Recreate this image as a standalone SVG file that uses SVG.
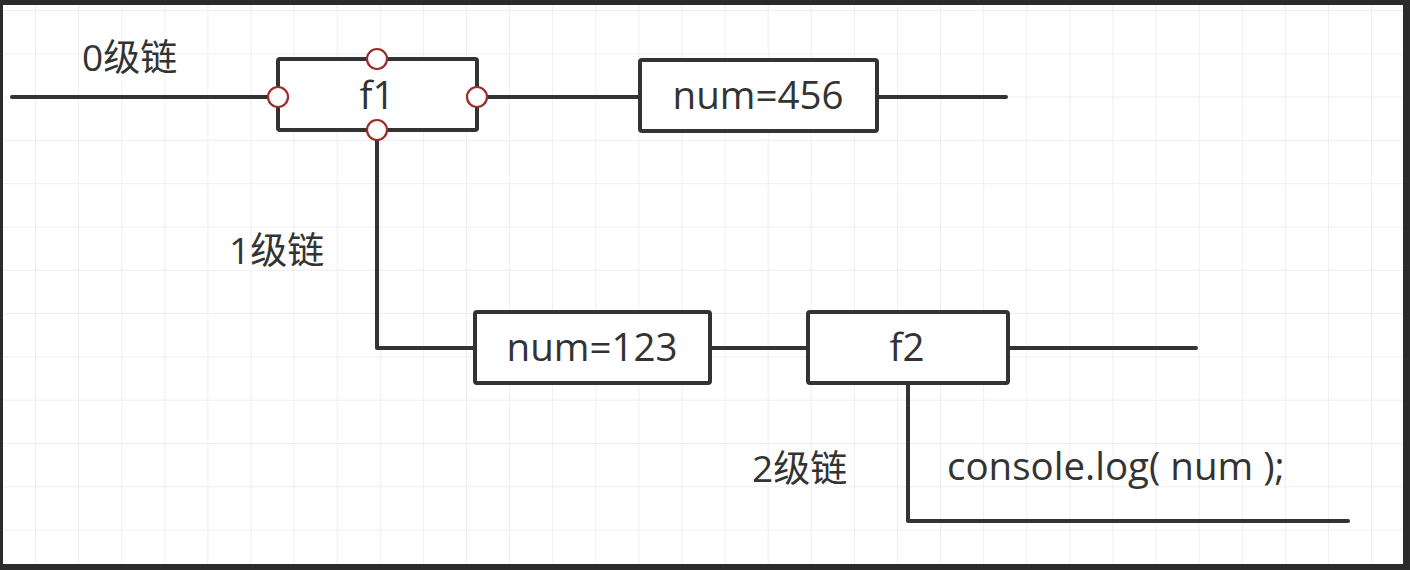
<svg xmlns="http://www.w3.org/2000/svg" width="1410" height="570" viewBox="0 0 1410 570">
<defs>
<pattern id="grid" x="35" y="10" width="43.1" height="43.3" patternUnits="userSpaceOnUse">
<path d="M0 0H43.1M0 0V43.3" fill="none" stroke="#efefef" stroke-width="2"/>
</pattern>
</defs>
<style>
.box{fill:#fff;stroke:#333;stroke-width:4;}
.wire{fill:none;stroke:#333;stroke-width:4;stroke-linecap:round;stroke-linejoin:round;}
.port{fill:#fff;stroke:#9b2c2c;stroke-width:2.2;}
.t{font-family:"Open Sans","Noto Sans CJK SC",sans-serif;font-size:37px;fill:#333;}
.l{font-size:38.5px;}
.m{text-anchor:middle;}
</style>
<rect x="0" y="0" width="1410" height="570" fill="#2b2b2b"/>
<rect x="3" y="5" width="1400" height="559" fill="#fff"/>
<rect x="3" y="5" width="1400" height="559" fill="url(#grid)"/>
<g id="connectors">
<path class="wire" d="M12 97H278"/>
<path class="wire" d="M477 97H640"/>
<path class="wire" d="M877 97H1006"/>
<path class="wire" d="M377 130V348H475"/>
<path class="wire" d="M710 348H808"/>
<path class="wire" d="M1008 348H1196"/>
<path class="wire" d="M908 383V521H1348"/>
</g>
<g id="label-0">
<text class="t" x="82" y="71">0级链</text>
</g>
<g id="label-1">
<text class="t" x="229" y="264">1级链</text>
</g>
<g id="label-2">
<text class="t" x="752" y="482">2级链</text>
</g>
<g id="f1">
<rect class="box" x="278" y="59" width="199" height="71" rx="2"/>
<text class="t l m" x="377" y="109">f1</text>
<circle class="port" cx="278" cy="97" r="10"/>
<circle class="port" cx="477" cy="97" r="10"/>
<circle class="port" cx="377" cy="59" r="10"/>
<circle class="port" cx="377" cy="130" r="10"/>
</g>
<g id="num456">
<rect class="box" x="640" y="60" width="237" height="71" rx="2"/>
<text class="t l m" x="758" y="109">num=456</text>
</g>
<g id="num123">
<rect class="box" x="475" y="312" width="235" height="71" rx="2"/>
<text class="t l m" x="592" y="361">num=123</text>
</g>
<g id="f2">
<rect class="box" x="808" y="312" width="200" height="71" rx="2"/>
<text class="t l m" x="907" y="361">f2</text>
</g>
<g id="console">
<text class="t l" x="947" y="480">console.log( num );</text>
</g>
</svg>
